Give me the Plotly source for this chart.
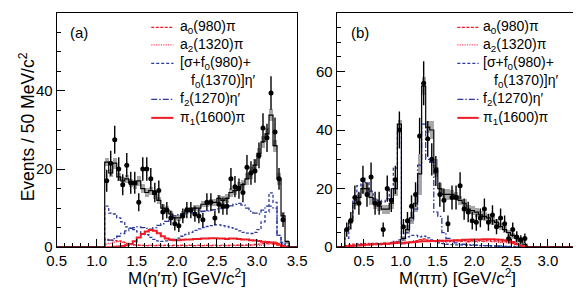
import numpy as np
import plotly.graph_objects as go

# ---------------- Panel (a): M(eta' pi) ----------------
A_BIN_START = 1.10
A_BIN_WIDTH = 0.05
a_fit = [21.8, 19, 21.5, 18, 17, 17.5, 16.5, 16, 17, 15, 14, 14.5, 13.5, 12, 10, 9.5, 8.5, 7.5, 7.5, 8.5,
         9.5, 9.5, 10, 10, 11, 11, 11.5, 11.5, 12.5, 12, 12.5, 14, 14.5, 15.5, 16, 17.5, 19, 21, 24, 27,
         29, 33.8, 26, 17.5, 8, 1.4]
a_band = [1.0, 1.0, 1.5, 1.0, 1.0, 1.0, 1.0, 1.0, 1.2, 1.2, 1.2, 1.0, 1.0, 1.0, 1.0, 1.0, 0.8, 0.8, 0.8, 0.8,
          0.8, 0.8, 0.8, 0.8, 0.8, 0.8, 1.0, 1.0, 1.0, 1.2, 1.2, 1.2, 1.2, 1.2, 1.2, 1.5, 1.5, 1.5, 1.5, 1.5,
          1.5, 1.5, 1.5, 1.5, 1.0, 0.5]
a_sigma = [10.5, 8.7, 8.5, 7.5, 6.5, 5.2, 4.9, 4.5, 3.9, 3.5, 3.2, 2.5, 2.0, 1.6, 1.5, 1.6, 1.8, 2.0, 2.3, 2.8,
           3.3, 3.8, 4.3, 4.7, 5.0, 5.3, 5.5, 5.7, 5.7, 5.5, 5.3, 5.0, 4.6, 4.2, 3.8, 3.6, 3.5, 3.8, 4.5, 6.5,
           9, 13.9, 11.5, 3, 1.2, 0.3]
a_f2 = [1.8, 1.8, 2.2, 2.8, 3.5, 4.2, 4.8, 5.0, 5.2, 5.0, 4.8, 4.6, 5.0, 5.6, 6.0, 6.6, 7.3, 8.0, 8.3, 8.5,
        8.7, 8.8, 8.8, 9.0, 9.2, 9.3, 9.5, 9.6, 9.8, 10.0, 10.3, 10.6, 11.0, 11.2, 10.8, 10.0, 9.2, 8.7, 8.5, 9.5,
        10.5, 10.5, 10.0, 3.0, 0.8, 0.1]
a_a0 = [2.0, 1.8, 1.7, 1.6, 1.3, 1.0, 0.8, 0.6, 0.5, 0.45, 0.4, 0.45, 0.4, 0.45, 0.4, 0.45, 0.4, 0.45, 0.4, 0.45,
        0.4, 0.45, 0.4, 0.45, 0.4, 0.45, 0.4, 0.45, 0.4, 0.45, 0.4, 0.45, 0.45, 0.5, 0.5, 0.55, 0.6, 0.7, 0.8, 0.9,
        1.0, 1.2, 1.3, 1.0, 0.5, 0.1]
a_a2 = [0.8, 1.0, 1.3, 1.5, 1.2, 0.8, 0.6, 0.5, 0.5, 0.45, 0.4, 0.5, 0.4, 0.5, 0.4, 0.5, 0.4, 0.5, 0.4, 0.5,
        0.4, 0.5, 0.4, 0.5, 0.4, 0.5, 0.4, 0.5, 0.4, 0.5, 0.4, 0.5, 0.4, 0.5, 0.4, 0.5, 0.4, 0.5, 0.4, 0.5,
        0.6, 0.8, 0.8, 0.6, 0.3, 0.05]
a_pi1 = [0, 0, 0.1, 0.2, 0.3, 0.5, 0.8, 1.5, 2.5, 3.4, 4.0, 4.4, 4.2, 3.6, 2.8, 2.2, 2.0, 1.8, 1.8, 1.9,
         2.0, 2.0, 2.1, 2.1, 2.2, 2.2, 2.3, 2.3, 2.2, 2.2, 2.1, 2.2, 2.2, 2.1, 2.0, 2.0, 1.8, 1.7, 1.6, 1.4,
         1.3, 1.2, 1.0, 0.6, 0.3, 0.0]
a_data = [17, 21.5, 27.5, 20, 16, 21, 16.5, 16.5, 11.5, 20, 20, 17.5, 14, 14.5, 9, 9.5, 7.5, 6, 5.5, 8,
          9.5, 9.5, 8.5, 8, 7, 11.5, 11.5, 7.5, 11, 10.5, 10.5, 17.5, 15.5, 15, 14, 20.5, 19, 19.5, 23.5, 30.5,
          28, 39.5, 29.5, 17.5, 7]
a_err = [2.8, 3.2, 3.6, 3.0, 2.7, 3.1, 2.8, 2.8, 2.3, 3.0, 3.0, 2.8, 2.5, 2.6, 2.0, 2.1, 1.9, 1.7, 1.6, 1.9,
         2.1, 2.1, 2.0, 1.9, 1.8, 2.3, 2.3, 1.9, 2.3, 2.2, 2.2, 2.8, 2.7, 2.6, 2.5, 3.1, 3.0, 3.0, 3.3, 3.8,
         3.6, 4.3, 3.7, 2.8, 1.8]

# ---------------- Panel (b): M(pi pi) ----------------
B_BIN_START = 0.24
B_BIN_WIDTH = 0.055
b_fit = [6, 9, 15, 17, 20, 20, 17, 15, 14, 13, 13, 15, 20, 42, 3, 6, 10, 15, 25, 55,
         41, 40, 27, 20, 18, 18, 18, 17.5, 16, 15, 13, 12.5, 12, 11, 10.5, 10, 9, 8.5, 7, 6,
         5, 4, 3, 2, 1]
b_band = [0.5, 1, 1, 1.5, 1.5, 2, 2.5, 2, 1.5, 1.5, 1.5, 2, 2.5, 1.5, 1, 1.5, 2, 3, 7, 3,
          2, 3, 3, 2, 2, 2, 1.5, 1.5, 1.5, 1.5, 1.5, 1.5, 1.5, 1.5, 1.5, 1.5, 1.5, 1.2, 1.2, 1.2,
          1, 1, 0.8, 0.5, 0.3]
b_sigma = [3, 9.5, 16, 21, 23.5, 22, 19, 16.5, 16, 15.5, 16.5, 20, 27, 40, 3, 3.5, 4, 4, 3.5, 3.8,
           3.2, 2.5, 2, 1.5, 1.2, 1, 0.9, 0.8, 0.8, 0.7, 0.7, 0.6, 0.6, 0.5, 0.5, 0.5, 0.4, 0.4, 0.4, 0.3,
           0.3, 0.3, 0.2, 0.2, 0.1]
b_f2 = [0.2, 0.4, 0.6, 0.8, 1.0, 1.0, 1.0, 1.0, 1.0, 1.0, 1.2, 1.5, 2.0, 2.5, 2.5, 5, 9, 13, 28, 42,
        30, 29, 12, 10.5, 5, 3, 2, 1.5, 1.2, 1.0, 0.9, 0.8, 0.7, 0.6, 0.5, 0.5, 0.4, 0.4, 0.3, 0.3,
        0.2, 0.2, 0.1, 0.1, 0.05]
b_a0 = [0.5, 0.8, 1.0, 1.2, 1.0, 1.3, 1.1, 1.4, 1.2, 1.5, 1.3, 1.6, 1.8, 2.0, 1.2, 1.5, 1.8, 2.2, 2.6, 2.8,
        2.4, 2.2, 2.0, 2.3, 1.9, 2.2, 2.0, 2.4, 2.1, 2.3, 1.9, 2.2, 2.0, 2.3, 2.1, 2.4, 2.0, 2.2, 1.8, 2.0,
        1.7, 1.4, 1.0, 0.5, 0.1]
b_a2 = [0.3, 0.5, 0.6, 0.8, 0.7, 0.9, 0.8, 1.0, 0.9, 1.1, 1.0, 1.2, 1.3, 1.4, 1.0, 1.3, 1.6, 2.0, 2.4, 2.6,
        2.3, 2.0, 1.8, 2.0, 1.7, 1.9, 1.8, 2.1, 1.9, 2.0, 1.7, 1.9, 1.8, 2.0, 1.9, 2.1, 1.8, 1.9, 1.6, 1.7,
        1.5, 1.2, 0.8, 0.4, 0.1]
b_pi1 = [0.2, 0.4, 0.5, 0.6, 0.7, 0.8, 0.9, 1.0, 1.0, 1.1, 1.2, 1.3, 1.4, 1.5, 1.5, 1.6, 1.7, 1.8, 1.9, 2.0,
         2.0, 2.1, 2.1, 2.2, 2.2, 2.3, 2.3, 2.4, 2.4, 2.5, 2.5, 2.6, 2.6, 2.6, 2.7, 2.7, 2.7, 2.6, 2.5, 2.4,
         2.2, 1.8, 1.2, 0.6, 0.2]
b_data = [6, 9, 17, 15, 23, 18, 24, 15, 15, 6, 20, 16, 23, 40, 7, 9, 14, 18, 38, 56,
          37, 30, 26, 18, 16, 8, 17, 17, 21, 13, 12, 9, 8.5, 10, 13, 8.5, 11, 7, 10, 8,
          3, 6, 3.5, 2.5, 3]
b_err = [2.4, 3.0, 4.1, 3.9, 4.8, 4.2, 4.9, 3.9, 3.9, 2.4, 4.5, 4.0, 4.8, 6.3, 2.6, 3.0, 3.7, 4.2, 6.2, 7.5,
         6.1, 5.5, 5.1, 4.2, 4.0, 2.8, 4.1, 4.1, 4.6, 3.6, 3.5, 3.0, 2.9, 3.2, 3.6, 2.9, 3.3, 2.6, 3.2, 2.8,
         1.7, 2.4, 1.9, 1.6, 1.7]

A_XRANGE = [0.5, 3.5]
B_XRANGE = [0.13, 3.41]

RED = "#ee1c25"
PINK = "#f0506a"
BLUE = "#2b3a9e"
FONT = "Liberation Sans, Arial, sans-serif"

DASH_A0 = "3px,1.5px"
DASH_A2 = "1.2px,1.2px"
DASH_SIG = "3px,2px"
DASH_F2 = "6px,2px,1.5px,2px"

fig = go.Figure()


def add_panel(xa, ya, start, width, xr, fit, band, sigma, f2, a0, a2, pi1, data, err):
    fit = np.array(fit, float)
    band = np.array(band, float)
    n = len(fit)
    edges = start + width * np.arange(n + 1)
    centers = edges[:-1] + width / 2
    fig.add_trace(go.Bar(x=centers, y=2 * band, base=fit - band, width=width,
                         marker=dict(color="#a8a8a8", line=dict(width=0)),
                         xaxis=xa, yaxis=ya, showlegend=False, hoverinfo="skip"))

    def step(vals, color, dash, w):
        xs = np.concatenate([[xr[0]], edges, [xr[1]]])
        ys = np.concatenate([[0], np.array(vals, float), [0, 0]])
        fig.add_trace(go.Scatter(x=xs, y=ys, mode="lines",
                                 line=dict(shape="hv", color=color, dash=dash, width=w),
                                 xaxis=xa, yaxis=ya, showlegend=False, hoverinfo="skip"))

    step(a2, PINK, DASH_A2, 1.3)
    step(a0, RED, DASH_A0, 1.3)
    step(sigma, BLUE, DASH_SIG, 1.3)
    step(f2, BLUE, DASH_F2, 1.3)
    step(pi1, RED, "solid", 2.0)
    step(fit, "black", "solid", 1.2)
    nd = len(data)
    fig.add_trace(go.Scatter(x=centers[:nd], y=data, mode="markers",
                             marker=dict(color="black", size=5),
                             error_y=dict(type="data", array=err, width=0, thickness=1.4, color="black"),
                             xaxis=xa, yaxis=ya, showlegend=False, hoverinfo="skip"))


add_panel("x", "y", A_BIN_START, A_BIN_WIDTH, A_XRANGE, a_fit, a_band, a_sigma, a_f2, a_a0, a_a2,
          a_pi1, a_data, a_err)
add_panel("x2", "y2", B_BIN_START, B_BIN_WIDTH, B_XRANGE, b_fit, b_band, b_sigma, b_f2, b_a0, b_a2,
          b_pi1, b_data, b_err)

W, H = 581, 289
YDOM = [1 - 246 / H, 1 - 5 / H]

axis_common = dict(showline=True, linecolor="black", linewidth=1, mirror=True, showgrid=False,
                   zeroline=False, ticks="inside", ticklen=8, tickcolor="black", tickwidth=1,
                   tickfont=dict(family=FONT, size=15, color="black"))

fig.update_layout(
    width=W, height=H, margin=dict(l=0, r=0, t=0, b=0),
    paper_bgcolor="white", plot_bgcolor="white", barmode="overlay", bargap=0,
    showlegend=False,
    xaxis=dict(domain=[40 / W, 289 / W], range=A_XRANGE, dtick=0.5, tick0=0.5, tickformat=".1f",
               minor=dict(dtick=0.1, ticks="inside", ticklen=4, tickcolor="black"), anchor="y",
               ticklabelstandoff=0, **axis_common),
    yaxis=dict(domain=YDOM, range=[0, 60], dtick=20,
               minor=dict(dtick=5, ticks="inside", ticklen=4, tickcolor="black"), anchor="x",
               **axis_common),
    xaxis2=dict(domain=[330 / W, 580 / W], range=B_XRANGE, dtick=0.5, tick0=0, tickformat=".1f",
                minor=dict(dtick=0.1, ticks="inside", ticklen=4, tickcolor="black"), anchor="y2",
                ticklabelstandoff=0, **axis_common),
    yaxis2=dict(domain=YDOM, range=[0, 80], dtick=20,
                minor=dict(dtick=5, ticks="inside", ticklen=4, tickcolor="black"), anchor="x2",
                **axis_common),
)


def px(x):
    return x / W


def py(y):
    return 1 - y / H


annotations = []
shapes = []

# Axis titles
for txt, xc in [("M(η′π) [GeV/c<sup>2</sup>]", 175), ("M(ππ) [GeV/c<sup>2</sup>]", 455)]:
    annotations.append(dict(text=txt, x=px(xc), y=0, xref="paper", yref="paper",
                            showarrow=False, xanchor="center", yanchor="bottom", borderpad=0,
                            font=dict(family=FONT, size=17, color="black")))
annotations.append(dict(text="Events / 50 MeV/c<sup>2</sup>", x=px(9), y=py(122), xref="paper", yref="paper",
                        showarrow=False, xanchor="center", yanchor="middle", textangle=-90,
                        font=dict(family=FONT, size=17.5, color="black")))
# Panel labels
annotations.append(dict(text="(a)", x=px(63), y=py(25), xref="paper", yref="paper", showarrow=False,
                        xanchor="center", yanchor="middle", font=dict(family=FONT, size=15, color="black")))
annotations.append(dict(text="(b)", x=px(354), y=py(25), xref="paper", yref="paper", showarrow=False,
                        xanchor="center", yanchor="middle", font=dict(family=FONT, size=15, color="black")))

legend_items = [
    ("a<sub>0</sub>(980)π", RED, DASH_A0, 1.3, 20),
    ("a<sub>2</sub>(1320)π", PINK, DASH_A2, 1.3, 38),
    ("[σ+f<sub>0</sub>(980)+", BLUE, DASH_SIG, 1.3, 57),
    ("f<sub>2</sub>(1270)η′", BLUE, DASH_F2, 1.3, 94),
    ("π<sub>1</sub>(1600)π", RED, "solid", 2.0, 113),
]
for (lx0, lx1, tx) in [(138, 161, 166), (455, 477, 480)]:
    for text, color, dash, w, yy in legend_items:
        shapes.append(dict(type="line", xref="paper", yref="paper", x0=px(lx0), x1=px(lx1),
                           y0=py(yy), y1=py(yy), line=dict(color=color, dash=dash, width=w)))
        annotations.append(dict(text=text, x=px(tx), y=py(yy), xref="paper", yref="paper", showarrow=False,
                                xanchor="left", yanchor="middle",
                                font=dict(family=FONT, size=14, color="black")))
    annotations.append(dict(text="f<sub>0</sub>(1370)]η′", x=px(tx + 11), y=py(75), xref="paper", yref="paper",
                            showarrow=False, xanchor="left", yanchor="middle",
                            font=dict(family=FONT, size=14, color="black")))

fig.update_layout(annotations=annotations, shapes=shapes)
fig.write_html("out.html")
